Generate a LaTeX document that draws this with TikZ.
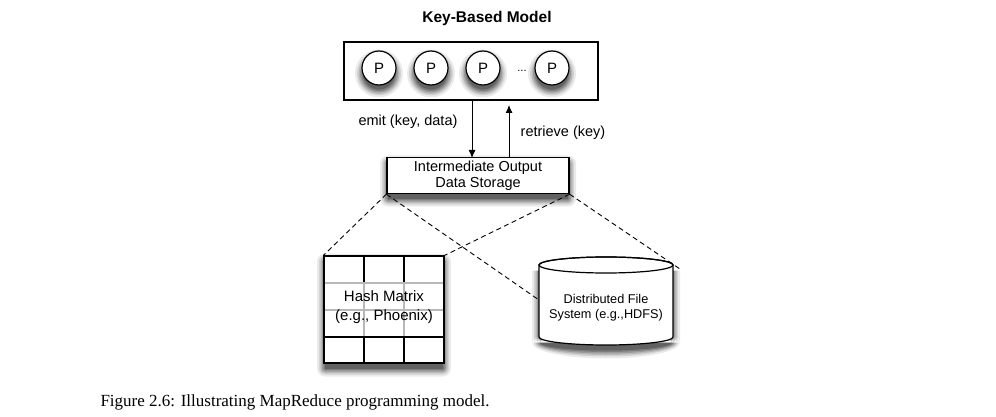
\documentclass[tikz,border=0pt]{standalone}
\usepackage{fontspec}
\setmainfont{Liberation Sans}
\newfontfamily\capfont{Liberation Serif}
\usetikzlibrary{arrows.meta}
\newcommand\myshadlist{8/0.08,6/0.10,4.5/0.13,3/0.16,1.5/0.19,0/0.22}
\newcommand\myshadrect[4]{%
  \foreach \dd/\oo in \myshadlist{%
    \fill[black,opacity=\oo,rounded corners=\dd pt] (#1-\dd+1,#2-\dd+5.5) rectangle (#3+\dd-1,#4+\dd+5.5);}}
\newcommand\myshadcirc[3]{%
  \foreach \dd/\oo in \myshadlist{%
    \fill[black,opacity=\oo] (#1,#2+5.5) circle[radius=#3+\dd-1];}}
% cylinder shadow: #1 cx, #2 top cy, #3 bottom cy, #4 rx, #5 ry
\newcommand\myshadcyl[5]{%
  \foreach \dd/\oo in \myshadlist{%
    \fill[black,opacity=\oo] (#1-#4-\dd+1,#2+5.5) rectangle (#1+#4+\dd-1,#3+5.5)
      (#1,#3+5.5) ellipse[x radius=#4+\dd-1,y radius=#5+\dd];}}
\begin{document}
\begin{tikzpicture}[x=1pt,y=-1pt,
  box/.style={draw,line width=1.2pt,fill=white},
  pcirc/.style={circle,draw,line width=1.2pt,fill=white,minimum size=34pt,inner sep=0pt,font=\fontsize{15}{18}\selectfont},
  arr/.style={line width=0.9pt,-{Latex[length=8pt,width=7pt]}},
  dashline/.style={line width=0.9pt,dash pattern=on 5pt off 3.5pt},
  lbl/.style={font=\fontsize{14.5}{17}\selectfont}
]
\useasboundingbox (0,0) rectangle (996,417);

% soft shadows
\myshadcirc{379}{68}{17}
\myshadcirc{431}{68}{17}
\myshadcirc{483}{68}{17}
\myshadcirc{552}{68}{17}
\myshadrect{387}{158}{569}{193}
\myshadrect{324}{256}{444}{363}
\myshadcyl{606}{265}{337}{67}{8}

\node[font=\bfseries\fontsize{15.5}{18}\selectfont] (title) at (487,18) {Key-Based Model};

% top box with processes
\node[draw,line width=1.2pt,minimum width=254pt,minimum height=58pt] (model) at (471,71) {};
\node[pcirc] (p1) at (379,68) {P};
\node[pcirc] (p2) at (431,68) {P};
\node[pcirc] (p3) at (483,68) {P};
\node[font=\fontsize{11}{12}\selectfont] (dots) at (522,71) {...};
\node[pcirc] (p4) at (552,68) {P};

% intermediate storage
\node[box,minimum width=182pt,minimum height=35pt,align=center,
      font=\fontsize{14.5}{16}\selectfont] (store) at (478,175.5)
      {Intermediate Output\\Data Storage};

% arrows
\coordinate (emitA) at (472,100);
\coordinate (emitB) at (472,158);
\coordinate (retA) at (509,158);
\coordinate (retB) at (509,105);
\draw[arr] (emitA) -- (emitB);
\draw[arr] (retA) -- (retB);
\node[lbl] (emit) at (408,122) {emit (key, data)};
\node[lbl] (retr) at (563,133) {retrieve (key)};

% hash matrix grid
\node[box,minimum width=120pt,minimum height=107pt] (grid) at (384,309.5) {};
\draw[line width=1.2pt] (364,256) -- (364,363);
\draw[line width=1.2pt] (404,256) -- (404,363);
\draw[line width=1.2pt] (324,283) -- (444,283);
\draw[line width=1.2pt] (324,310) -- (444,310);
\draw[line width=1.2pt] (324,337) -- (444,337);
\fill[white,opacity=0.72] (325,281.5) rectangle (443,335.5);
\node[align=center,font=\fontsize{15}{19}\selectfont] (hash) at (384,307.5)
      {Hash Matrix\\(e.g., Phoenix)};

% cylinder
\path[draw,line width=1.2pt,fill=white]
  (539,265) -- (539,337) arc[start angle=180,end angle=0,x radius=67,y radius=8]
  -- (673,265) arc[start angle=0,end angle=-180,x radius=67,y radius=8] -- cycle;
\draw[line width=1.2pt] (606,265) ellipse [x radius=67,y radius=8];
\node[align=center,font=\fontsize{12.7}{15}\selectfont] (dfs) at (606,307.5)
      {Distributed File\\System (e.g.,HDFS)};
\coordinate (cylL) at (539,300);
\coordinate (cylR) at (680,269);

% dashed connectors
\draw[dashline] (store.south west) -- (grid.north west);
\draw[dashline] (store.south west) -- (cylL);
\draw[dashline] (store.south east) -- (grid.north east);
\draw[dashline] (store.south east) -- (cylR);

\node[font=\capfont\fontsize{17}{20}\selectfont,anchor=base west] (cap) at (97,406)
      {Figure 2.6: Illustrating MapReduce programming model.};
\end{tikzpicture}
\end{document}
